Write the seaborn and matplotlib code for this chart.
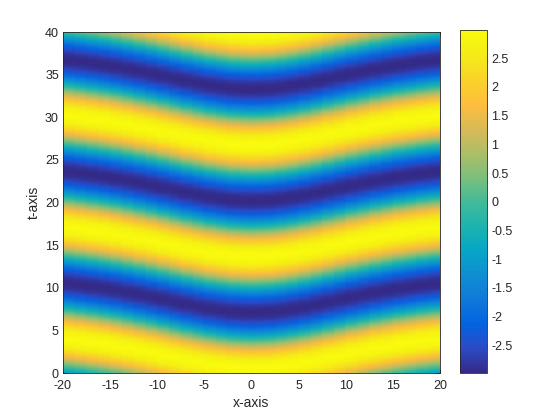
import numpy as np
import matplotlib
matplotlib.use('Agg')
import matplotlib.pyplot as plt
import seaborn as sns
from matplotlib.colors import LinearSegmentedColormap

sns.set_theme(style='ticks')
plt.rcParams['font.family'] = ['Liberation Sans', 'DejaVu Sans']
plt.rcParams['axes.unicode_minus'] = False

# values
x_cols = [-20, -17.5, -15, -12.5, -10, -7.5, -5, -2.5, 0, 2.5, 5, 7.5, 10, 12.5, 15, 17.5, 20]
# how far the bands sink (in t) relative to the edges
band_shift = [0.0, 0.35, 0.75, 1.25, 1.8, 2.4, 2.95, 3.35, 3.5,
              3.35, 2.95, 2.4, 1.8, 1.25, 0.75, 0.35, 0.0]
amp = 2.98
period = 13.1
t_first_peak = 4.07     # first yellow crest at the edges
x_ticks = [-20, -15, -10, -5, 0, 5, 10, 15, 20]
t_ticks = [0, 5, 10, 15, 20, 25, 30, 35, 40]
cb_ticks = [-2.5, -2, -1.5, -1, -0.5, 0, 0.5, 1, 1.5, 2, 2.5]

parula_pts = [
    (0.2081, 0.1663, 0.5292), (0.1707, 0.2919, 0.7792), (0.0117, 0.3875, 0.8820),
    (0.0629, 0.4737, 0.8554), (0.0641, 0.5570, 0.8240), (0.0228, 0.6535, 0.7768),
    (0.1133, 0.7015, 0.6859), (0.2586, 0.7317, 0.5954), (0.4871, 0.7491, 0.4840),
    (0.6834, 0.7435, 0.4044), (0.8507, 0.7299, 0.3360), (0.9938, 0.7455, 0.2403),
    (0.9789, 0.8271, 0.1633), (0.9598, 0.9218, 0.0948), (0.9763, 0.9831, 0.0538),
]
parula = LinearSegmentedColormap.from_list('parula', parula_pts, N=256)

t = np.linspace(0, 40, 401)
X = np.array(x_cols)
S = np.array(band_shift)
U = amp * np.cos(2 * np.pi * (t[:, None] + S[None, :] - t_first_peak) / period)

fig = plt.figure(figsize=(5.6, 4.2), dpi=100)
ax = fig.add_axes([0.1125, 0.1119, 0.6732, 0.8119])
cax = fig.add_axes([0.8214, 0.1119, 0.048, 0.8155])

mesh = ax.pcolormesh(X, t, U, shading='gouraud', cmap=parula, vmin=-amp, vmax=amp)
ax.set_xlim(-20, 20)
ax.set_ylim(0, 40)
ax.set_xticks(x_ticks)
ax.set_yticks(t_ticks)
ax.set_xticklabels([str(v) for v in x_ticks])
ax.set_yticklabels([str(v) for v in t_ticks])
ax.tick_params(direction='in', top=True, right=True, length=3, width=0.6,
               labelsize=9, colors='#262626')
ax.tick_params(axis='x', pad=5)
ax.tick_params(axis='y', pad=3)
for sp in ax.spines.values():
    sp.set_visible(True)
    sp.set_linewidth(0.6)
    sp.set_color('#262626')
ax.set_xlabel('x-axis', fontsize=10, color='#262626', labelpad=3)
ax.set_ylabel('t-axis', fontsize=10, color='#262626', labelpad=3)

cb = fig.colorbar(mesh, cax=cax)
cb.set_ticks(cb_ticks)
cb.set_ticklabels(['%g' % v for v in cb_ticks])
cax.tick_params(direction='in', length=3, width=0.6, labelsize=9, colors='#262626', pad=3)
cb.outline.set_linewidth(0.6)
cb.outline.set_edgecolor('#262626')

plt.savefig('out.png', dpi=100)
plt.close()
